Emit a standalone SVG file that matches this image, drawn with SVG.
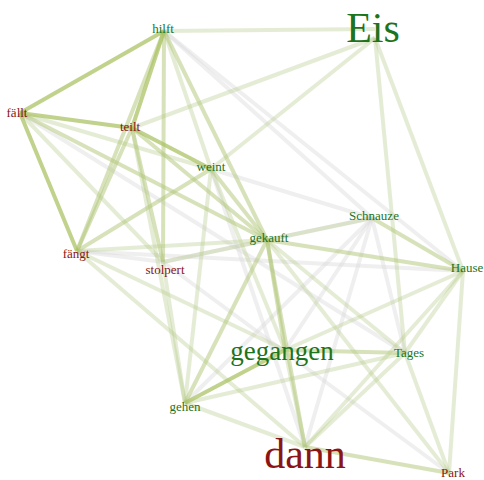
<svg xmlns="http://www.w3.org/2000/svg" width="484" height="480" viewBox="0 0 484 480">
  <style>
    .e { fill: none; stroke-width: 4; stroke-linecap: butt; }
    .g { stroke: #d9d9d9; stroke-opacity: 0.42; }
    .l { stroke: #b8c98a; stroke-opacity: 0.36; }
    .m { stroke: #b3c77a; stroke-opacity: 0.52; }
    .s { stroke: #a9c060; stroke-opacity: 0.72; }
    text { font-family: "Liberation Serif", "Times New Roman", serif; text-anchor: middle; }
    .gr { fill: #1d741d; }
    .rd { fill: #8b1414; }
    .sm { font-size: 13px; }
  </style>
  <rect width="484" height="480" fill="#ffffff"/>

  <!-- connectors: faint to strong -->
  <g id="edges">
    <!-- grey, weakest -->
    <line class="e g" x1="164" y1="31" x2="372" y2="218"/>
    <line class="e g" x1="164" y1="31" x2="463" y2="271"/>
    <line class="e g" x1="211" y1="169" x2="372" y2="218"/>
    <line class="e g" x1="20" y1="113" x2="405" y2="353"/>
    <line class="e g" x1="77" y1="251" x2="463" y2="271"/>
    <line class="e g" x1="163" y1="262" x2="372" y2="218"/>
    <line class="e g" x1="163" y1="262" x2="449" y2="473"/>
    <line class="e g" x1="305" y1="447" x2="372" y2="218"/>
    <line class="e g" x1="285" y1="350" x2="372" y2="218"/>
    <line class="e g" x1="185" y1="403" x2="372" y2="218"/>
    <line class="e g" x1="372" y1="218" x2="405" y2="353"/>
    <line class="e g" x1="211" y1="169" x2="305" y2="447"/>
    <line class="e g" x1="77" y1="251" x2="163" y2="262"/>

    <!-- light -->
    <line class="e l" x1="164" y1="31" x2="375" y2="29"/>
    <line class="e l" x1="164" y1="31" x2="211" y2="169"/>
    <line class="e l" x1="375" y1="38" x2="132" y2="128"/>
    <line class="e l" x1="375" y1="38" x2="211" y2="169"/>
    <line class="e l" x1="375" y1="38" x2="405" y2="353"/>
    <line class="e l" x1="375" y1="38" x2="463" y2="271"/>
    <line class="e l" x1="20" y1="113" x2="211" y2="169"/>
    <line class="e l" x1="20" y1="113" x2="163" y2="262"/>
    <line class="e l" x1="77" y1="251" x2="267" y2="240"/>
    <line class="e l" x1="77" y1="251" x2="285" y2="350"/>
    <line class="e l" x1="77" y1="251" x2="305" y2="447"/>
    <line class="e l" x1="163" y1="262" x2="185" y2="403"/>
    <line class="e l" x1="163" y1="262" x2="267" y2="240"/>
    <line class="e l" x1="185" y1="403" x2="211" y2="169"/>
    <line class="e l" x1="185" y1="403" x2="132" y2="128"/>
    <line class="e l" x1="185" y1="403" x2="405" y2="353"/>
    <line class="e l" x1="185" y1="403" x2="305" y2="447"/>
    <line class="e l" x1="285" y1="350" x2="463" y2="271"/>
    <line class="e l" x1="285" y1="350" x2="305" y2="447"/>
    <line class="e l" x1="405" y1="353" x2="463" y2="271"/>
    <line class="e l" x1="405" y1="353" x2="449" y2="473"/>
    <line class="e l" x1="405" y1="353" x2="305" y2="447"/>
    <line class="e l" x1="405" y1="353" x2="267" y2="240"/>
    <line class="e l" x1="449" y1="473" x2="463" y2="271"/>
    <line class="e l" x1="449" y1="473" x2="267" y2="240"/>
    <line class="e l" x1="305" y1="447" x2="463" y2="271"/>
    <line class="e l" x1="267" y1="240" x2="372" y2="218"/>
    <line class="e l" x1="211" y1="169" x2="285" y2="350"/>

    <!-- medium -->
    <line class="e m" x1="164" y1="31" x2="267" y2="240"/>
    <line class="e m" x1="211" y1="169" x2="267" y2="240"/>
    <line class="e m" x1="132" y1="128" x2="267" y2="240"/>
    <line class="e m" x1="20" y1="113" x2="267" y2="240"/>
    <line class="e m" x1="267" y1="240" x2="463" y2="271"/>
    <line class="e m" x1="372" y1="218" x2="463" y2="271"/>
    <line class="e m" x1="267" y1="240" x2="305" y2="447"/>
    <line class="e m" x1="267" y1="240" x2="285" y2="350"/>
    <line class="e m" x1="164" y1="31" x2="163" y2="262"/>
    <line class="e m" x1="77" y1="251" x2="211" y2="169"/>
    <line class="e m" x1="77" y1="251" x2="164" y2="31"/>
    <line class="e m" x1="132" y1="128" x2="163" y2="262"/>
    <line class="e m" x1="132" y1="128" x2="77" y2="251"/>
    <line class="e m" x1="185" y1="403" x2="267" y2="240"/>
    <line class="e m" x1="305" y1="447" x2="449" y2="473"/>

    <!-- strong -->
    <line class="e s" x1="164" y1="31" x2="20" y2="113"/>
    <line class="e s" x1="164" y1="31" x2="132" y2="128"/>
    <line class="e s" x1="20" y1="113" x2="132" y2="128" stroke-width="5"/>
    <line class="e s" x1="20" y1="113" x2="77" y2="251"/>
    <line class="e s" x1="132" y1="128" x2="211" y2="169"/>
    <line class="e s" x1="185" y1="403" x2="285" y2="350"/>
    <line class="e m" x1="285" y1="350" x2="405" y2="353" stroke-width="5"/>
  </g>

  <!-- word nodes -->
  <g id="n-hilft"><text class="gr sm" x="163" y="33">hilft</text></g>
  <g id="n-eis"><text class="gr" x="373" y="42" font-size="42">Eis</text></g>
  <g id="n-faellt"><text class="rd sm" x="17" y="117">fällt</text></g>
  <g id="n-teilt"><text class="rd sm" x="130" y="131">teilt</text></g>
  <g id="n-weint"><text class="gr sm" x="211" y="171">weint</text></g>
  <g id="n-schnauze"><text class="gr sm" x="374" y="220">Schnauze</text></g>
  <g id="n-gekauft"><text class="gr sm" x="269" y="242">gekauft</text></g>
  <g id="n-faengt"><text class="rd sm" x="76" y="258">fängt</text></g>
  <g id="n-stolpert"><text class="rd sm" x="165" y="274">stolpert</text></g>
  <g id="n-hause"><text class="gr sm" x="467" y="272">Hause</text></g>
  <g id="n-gegangen"><text class="gr" x="282" y="360" font-size="27">gegangen</text></g>
  <g id="n-tages"><text class="gr sm" x="409" y="357">Tages</text></g>
  <g id="n-gehen"><text class="gr sm" x="185" y="411">gehen</text></g>
  <g id="n-dann"><text class="rd" x="305" y="468" font-size="42">dann</text></g>
  <g id="n-park"><text class="rd sm" x="453" y="477">Park</text></g>
</svg>
